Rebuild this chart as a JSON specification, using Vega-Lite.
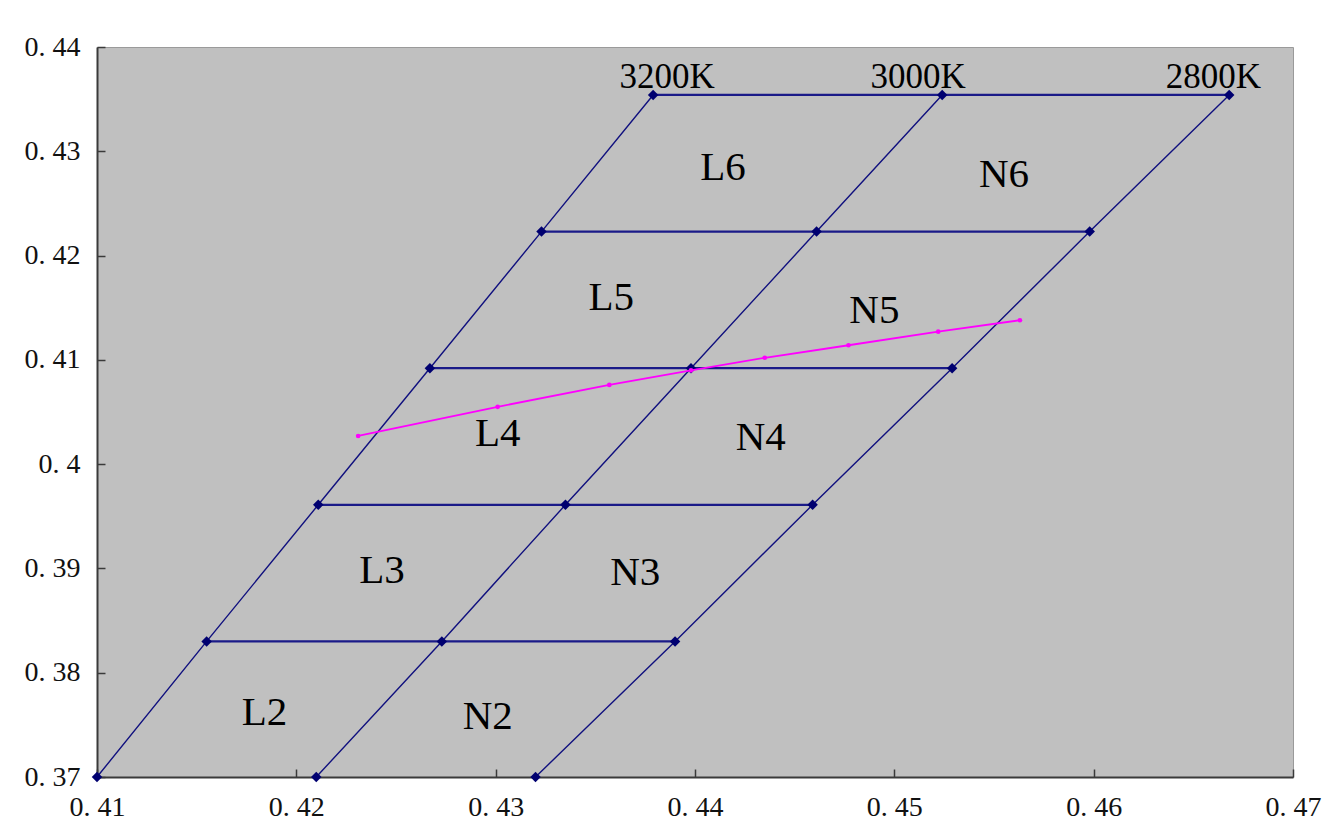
{
  "$schema": "https://vega.github.io/schema/vega-lite/v6.json",
  "autosize": "none",
  "width": 1196,
  "height": 730,
  "padding": {"left": 97, "top": 47, "right": 39, "bottom": 60},
  "background": "white",
  "config": {
    "view": {"fill": "#c0c0c0", "stroke": "#9a9a9a", "strokeWidth": 1},
    "axis": {
      "grid": false,
      "domainColor": "#3a3a3a",
      "domainWidth": 2,
      "tickColor": "#3a3a3a",
      "tickWidth": 1.5,
      "tickSize": -8,
      "labelFont": "Liberation Serif",
      "labelFontSize": 28,
      "labelColor": "#111111",
      "title": null
    }
  },
  "datasets": {
    "diag": [
      {"line": "3200K", "x": 0.4100, "y": 0.3700},
      {"line": "3200K", "x": 0.4155, "y": 0.3830},
      {"line": "3200K", "x": 0.4211, "y": 0.3961},
      {"line": "3200K", "x": 0.4267, "y": 0.4092},
      {"line": "3200K", "x": 0.4323, "y": 0.4223},
      {"line": "3200K", "x": 0.4379, "y": 0.4354},
      {"line": "3000K", "x": 0.4210, "y": 0.3700},
      {"line": "3000K", "x": 0.4273, "y": 0.3830},
      {"line": "3000K", "x": 0.4335, "y": 0.3961},
      {"line": "3000K", "x": 0.4398, "y": 0.4092},
      {"line": "3000K", "x": 0.4461, "y": 0.4223},
      {"line": "3000K", "x": 0.4524, "y": 0.4354},
      {"line": "2800K", "x": 0.4320, "y": 0.3700},
      {"line": "2800K", "x": 0.4390, "y": 0.3830},
      {"line": "2800K", "x": 0.4459, "y": 0.3961},
      {"line": "2800K", "x": 0.4529, "y": 0.4092},
      {"line": "2800K", "x": 0.4598, "y": 0.4223},
      {"line": "2800K", "x": 0.4668, "y": 0.4354}
    ],
    "horiz": [
      {"level": "h1", "x": 0.4155, "y": 0.3830},
      {"level": "h1", "x": 0.4390, "y": 0.3830},
      {"level": "h2", "x": 0.4211, "y": 0.3961},
      {"level": "h2", "x": 0.4459, "y": 0.3961},
      {"level": "h3", "x": 0.4267, "y": 0.4092},
      {"level": "h3", "x": 0.4529, "y": 0.4092},
      {"level": "h4", "x": 0.4323, "y": 0.4223},
      {"level": "h4", "x": 0.4598, "y": 0.4223},
      {"level": "h5", "x": 0.4379, "y": 0.4354},
      {"level": "h5", "x": 0.4668, "y": 0.4354}
    ],
    "locus": [
      {"x": 0.4231, "y": 0.4027},
      {"x": 0.4301, "y": 0.4055},
      {"x": 0.4357, "y": 0.4076},
      {"x": 0.4398, "y": 0.4090},
      {"x": 0.4435, "y": 0.4102},
      {"x": 0.4477, "y": 0.4114},
      {"x": 0.4522, "y": 0.4127},
      {"x": 0.4563, "y": 0.4138}
    ],
    "labels": [
      {"text": "L2", "x": 0.4184, "y": 0.3761},
      {"text": "N2", "x": 0.4296, "y": 0.3758},
      {"text": "L3", "x": 0.4243, "y": 0.3898},
      {"text": "N3", "x": 0.4370, "y": 0.3896},
      {"text": "L4", "x": 0.4301, "y": 0.4029},
      {"text": "N4", "x": 0.4433, "y": 0.4025},
      {"text": "L5", "x": 0.4358, "y": 0.4159},
      {"text": "N5", "x": 0.4490, "y": 0.4147},
      {"text": "L6", "x": 0.4414, "y": 0.4284},
      {"text": "N6", "x": 0.4555, "y": 0.4277}
    ],
    "cct": [
      {"text": "3200K", "x": 0.4386, "y": 0.4371},
      {"text": "3000K", "x": 0.4512, "y": 0.4371},
      {"text": "2800K", "x": 0.4660, "y": 0.4371}
    ]
  },
  "encoding": {
    "x": {
      "field": "x", "type": "quantitative",
      "scale": {"domain": [0.41, 0.47], "nice": false, "zero": false},
      "axis": {
        "values": [0.41, 0.42, 0.43, 0.44, 0.45, 0.46, 0.47],
        "format": ".2f",
        "labelExpr": "replace(datum.label, '.', '. ')",
        "labelPadding": 24,
        "labelFontSize": 28,
        "labelFlush": false,
        "labelBaseline": "top"
      }
    },
    "y": {
      "field": "y", "type": "quantitative",
      "scale": {"domain": [0.37, 0.44], "nice": false, "zero": false},
      "axis": {
        "values": [0.37, 0.38, 0.39, 0.40, 0.41, 0.42, 0.43, 0.44],
        "labelExpr": "datum.value == 0.4 ? '0. 4' : replace(format(datum.value, '.2f'), '.', '. ')",
        "labelPadding": 25,
        "labelFontSize": 28,
        "labelFlush": false
      }
    }
  },
  "layer": [
    {
      "data": {"name": "horiz"},
      "mark": {"type": "line", "color": "#1a1a88", "strokeWidth": 2.2},
      "encoding": {"detail": {"field": "level"}}
    },
    {
      "data": {"name": "diag"},
      "mark": {"type": "line", "color": "#10107e", "strokeWidth": 1.4},
      "encoding": {"detail": {"field": "line"}}
    },
    {
      "data": {"name": "diag"},
      "mark": {"type": "point", "shape": "diamond", "filled": true, "color": "#000070", "size": 110, "opacity": 1}
    },
    {
      "data": {"name": "locus"},
      "mark": {"type": "line", "color": "#ff00ff", "strokeWidth": 1.8, "point": {"filled": true, "size": 22, "color": "#ff00ff"}}
    },
    {
      "data": {"name": "labels"},
      "mark": {"type": "text", "font": "Liberation Serif", "fontSize": 41, "color": "#000000", "align": "center", "baseline": "middle"},
      "encoding": {"text": {"field": "text"}}
    },
    {
      "data": {"name": "cct"},
      "mark": {"type": "text", "font": "Liberation Serif", "fontSize": 35, "color": "#000000", "align": "center", "baseline": "middle"},
      "encoding": {"text": {"field": "text"}}
    }
  ]
}
